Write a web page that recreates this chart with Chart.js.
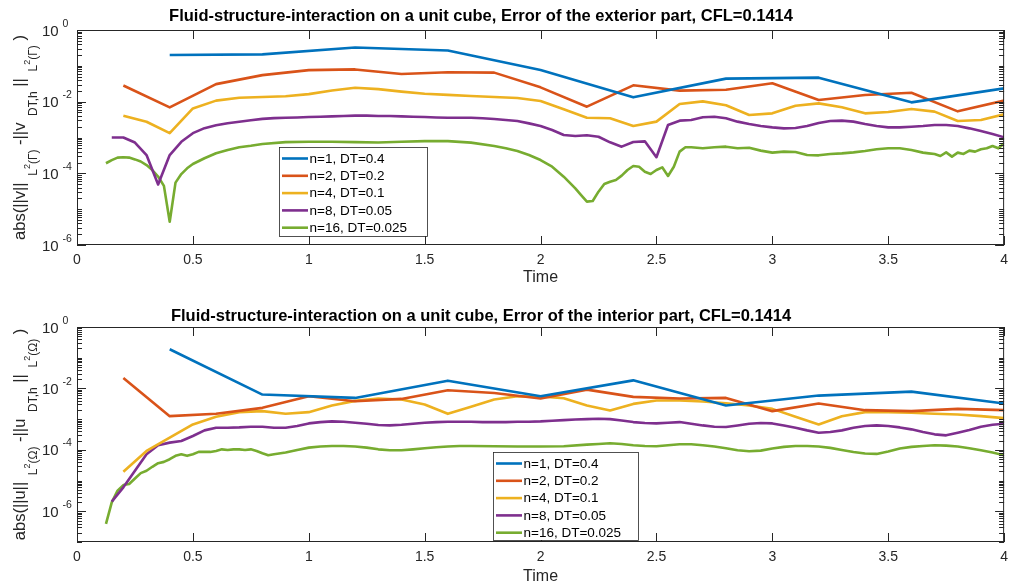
<!DOCTYPE html>
<html>
<head>
<meta charset="utf-8">
<script src="https://cdn.jsdelivr.net/npm/chart.js@4.4.1/dist/chart.umd.min.js"></script>
<style>
  html, body { margin: 0; padding: 0; background: #fff; }
  #wrap { position: relative; width: 1015px; height: 586px; overflow: hidden; }
  #wrap canvas { position: absolute; left: 0; }
</style>
</head>
<body>
<div id="wrap">
  <canvas id="exterior" width="1015" height="293" style="top:0"></canvas>
  <canvas id="interior" width="1015" height="293" style="top:293px"></canvas>
</div>
<script>
// ---- series ----
const seriesLabels = ['n=1, DT=0.4', 'n=2, DT=0.2', 'n=4, DT=0.1', 'n=8, DT=0.05', 'n=16, DT=0.025'];
const seriesColors = ['#0072BD', '#D95319', '#EDB120', '#7E2F8E', '#77AC30'];

// time grids
const t1 = [0.4, 0.8, 1.2, 1.6, 2.0, 2.4, 2.8, 3.2, 3.6, 4.0];
const t2 = [0.2, 0.4, 0.6, 0.8, 1.0, 1.2, 1.4, 1.6, 1.8, 2.0, 2.2, 2.4, 2.6, 2.8, 3.0, 3.2, 3.4, 3.6, 3.8, 4.0];
const t4 = [0.2, 0.3, 0.4, 0.5, 0.6, 0.7, 0.8, 0.9, 1.0, 1.1, 1.2, 1.3, 1.4, 1.5, 1.6, 1.7, 1.8, 1.9, 2.0,
            2.1, 2.2, 2.3, 2.4, 2.5, 2.6, 2.7, 2.8, 2.9, 3.0, 3.1, 3.2, 3.3, 3.4, 3.5, 3.6, 3.7, 3.8, 3.9, 4.0];
const t8 = [0.15, 0.2, 0.25, 0.3, 0.35, 0.4, 0.45, 0.5, 0.55, 0.6, 0.65, 0.7, 0.75, 0.8, 0.85, 0.9, 0.95, 1.0,
            1.05, 1.1, 1.15, 1.2, 1.25, 1.3, 1.35, 1.4, 1.45, 1.5, 1.55, 1.6, 1.65, 1.7, 1.75, 1.8, 1.85, 1.9,
            1.95, 2.0, 2.05, 2.1, 2.15, 2.2, 2.25, 2.3, 2.35, 2.4, 2.45, 2.5, 2.55, 2.6, 2.65, 2.7, 2.75, 2.8,
            2.85, 2.9, 2.95, 3.0, 3.05, 3.1, 3.15, 3.2, 3.25, 3.3, 3.35, 3.4, 3.45, 3.5, 3.55, 3.6, 3.65, 3.7,
            3.75, 3.8, 3.85, 3.9, 3.95, 4.0];
const tExt16 = [0.125, 0.15, 0.175, 0.2, 0.225, 0.25, 0.275, 0.3, 0.325, 0.35, 0.375, 0.4, 0.425, 0.45, 0.475,
                0.5, 0.55, 0.6, 0.65, 0.7, 0.75, 0.8, 0.9, 1.0, 1.1, 1.2, 1.3, 1.4, 1.5, 1.6,
                1.7, 1.8, 1.85, 1.9, 1.95, 2.0, 2.05, 2.1, 2.15, 2.175, 2.2, 2.225, 2.25, 2.275, 2.3, 2.325,
                2.35, 2.375, 2.4, 2.425, 2.45, 2.475, 2.5, 2.525, 2.55, 2.575, 2.6, 2.625, 2.65, 2.7, 2.75,
                2.8, 2.85, 2.9, 2.95, 3.0, 3.05, 3.1, 3.15, 3.2, 3.25, 3.3, 3.35, 3.4, 3.45, 3.5, 3.55, 3.6,
                3.65, 3.675, 3.7, 3.725, 3.75, 3.775, 3.8, 3.825, 3.85, 3.875, 3.9, 3.925, 3.95, 3.975, 4.0];
const tInt16 = [0.125, 0.15, 0.175, 0.2, 0.225, 0.25, 0.275, 0.3, 0.325, 0.35, 0.375, 0.4, 0.425, 0.45, 0.475,
                0.5, 0.525, 0.55, 0.575, 0.6, 0.625, 0.65, 0.675, 0.7, 0.725, 0.75, 0.775, 0.8, 0.825, 0.85,
                0.9, 0.95, 1.0, 1.05, 1.1, 1.15, 1.2, 1.25, 1.3, 1.35, 1.4, 1.45, 1.5, 1.55, 1.6,
                1.65, 1.7, 1.8, 1.9, 2.0, 2.1, 2.2, 2.25, 2.3, 2.35, 2.4, 2.45, 2.5, 2.55, 2.6, 2.65, 2.7,
                2.75, 2.8, 2.85, 2.9, 2.95, 3.0, 3.05, 3.1, 3.15, 3.2, 3.25, 3.3, 3.35, 3.4, 3.45, 3.5, 3.55,
                3.6, 3.65, 3.7, 3.75, 3.8, 3.85, 3.9, 3.95, 4.0];

// exterior part errors
const extErr1 = [2.0e-1, 2.09e-1, 3.24e-1, 2.69e-1, 7.66e-2, 1.32e-2, 4.39e-2, 4.68e-2, 9.57e-3, 2.35e-2];
const extErr2 = [2.82e-2, 6.92e-3, 3.09e-2, 5.50e-2, 7.59e-2, 7.94e-2, 5.89e-2, 6.61e-2, 6.46e-2, 2.51e-2,
                 7.24e-3, 2.86e-2, 2.03e-2, 2.16e-2, 3.25e-2, 1.11e-2, 1.53e-2, 1.78e-2, 5.37e-3, 1.07e-2];
const extErr4 = [4.07e-3, 2.75e-3, 1.32e-3, 6.46e-3, 1.07e-2, 1.29e-2, 1.35e-2, 1.41e-2, 1.62e-2, 2.04e-2,
                 2.45e-2, 2.24e-2, 1.91e-2, 1.66e-2, 1.55e-2, 1.44e-2, 1.35e-2, 1.26e-2, 1.04e-2, 6.11e-3,
                 3.57e-3, 3.43e-3, 2.09e-3, 2.77e-3, 8.61e-3, 1.02e-2, 7.91e-3, 4.25e-3, 4.72e-3, 7.73e-3,
                 8.97e-3, 6.95e-3, 4.72e-3, 5.15e-3, 6.24e-3, 5.26e-3, 2.88e-3, 3.08e-3, 4.44e-3];
const extErr8 = [1.0e-3, 1.0e-3, 7.24e-4, 3.24e-4, 4.90e-5, 3.24e-4, 7.59e-4, 1.32e-3, 1.82e-3, 2.19e-3,
                 2.51e-3, 2.75e-3, 3.02e-3, 3.31e-3, 3.47e-3, 3.55e-3, 3.63e-3, 3.72e-3, 3.80e-3, 3.89e-3,
                 3.98e-3, 4.07e-3, 4.07e-3, 3.98e-3, 3.98e-3, 3.89e-3, 3.80e-3, 3.72e-3, 3.63e-3, 3.55e-3,
                 3.55e-3, 3.57e-3, 3.43e-3, 3.28e-3, 3.08e-3, 2.88e-3, 2.48e-3, 2.09e-3, 1.62e-3, 1.17e-3,
                 1.10e-3, 1.15e-3, 1.05e-3, 7.33e-4, 5.55e-4, 7.48e-4, 7.81e-4, 2.82e-4, 2.23e-3, 2.95e-3,
                 3.08e-3, 3.66e-3, 3.81e-3, 3.43e-3, 2.77e-3, 2.38e-3, 2.09e-3, 1.92e-3, 1.80e-3, 1.84e-3,
                 2.09e-3, 2.54e-3, 2.88e-3, 2.95e-3, 2.77e-3, 2.38e-3, 2.09e-3, 1.92e-3, 1.92e-3, 2.00e-3,
                 2.09e-3, 2.23e-3, 2.23e-3, 2.09e-3, 1.80e-3, 1.52e-3, 1.25e-3, 1.01e-3];
const extErr16 = [1.91e-4, 2.34e-4, 2.75e-4, 2.82e-4, 2.75e-4, 2.45e-4, 2.14e-4, 1.70e-4, 1.23e-4, 8.13e-5,
                  4.47e-5, 4.47e-6, 5.50e-5, 9.55e-5, 1.38e-4, 1.82e-4, 2.63e-4, 3.63e-4, 4.47e-4, 5.37e-4,
                  5.89e-4, 6.61e-4, 7.41e-4, 7.59e-4, 7.59e-4, 7.41e-4, 7.24e-4, 7.59e-4, 7.94e-4, 7.94e-4,
                  7.18e-4, 5.79e-4, 4.99e-4, 4.20e-4, 3.25e-4, 2.35e-4, 1.53e-4, 8.07e-5, 3.81e-5, 2.48e-5,
                  1.62e-5, 1.69e-5, 3.08e-5, 5.04e-5, 5.85e-5, 6.52e-5, 8.61e-5, 1.24e-4, 1.60e-4, 1.53e-4,
                  1.11e-4, 9.57e-5, 1.24e-4, 1.47e-4, 8.43e-5, 1.53e-4, 4.03e-4, 5.32e-4, 5.32e-4, 4.99e-4,
                  5.32e-4, 5.55e-4, 4.99e-4, 5.20e-4, 4.30e-4, 3.78e-4, 4.03e-4, 3.94e-4, 3.25e-4, 3.18e-4,
                  3.47e-4, 3.61e-4, 3.85e-4, 4.20e-4, 4.68e-4, 4.99e-4, 4.99e-4, 4.48e-4, 3.78e-4, 3.61e-4,
                  3.47e-4, 3.05e-4, 3.85e-4, 2.92e-4, 3.78e-4, 3.47e-4, 4.30e-4, 4.03e-4, 4.68e-4, 4.99e-4,
                  5.79e-4, 4.99e-4, 6.87e-4];

// interior part errors
const intErr1 = [1.89e-1, 6.31e-3, 4.91e-3, 1.79e-2, 5.56e-3, 1.83e-2, 2.77e-3, 5.85e-3, 7.87e-3, 3.22e-3];
const intErr2 = [2.18e-2, 1.25e-3, 1.49e-3, 2.33e-3, 5.56e-3, 3.84e-3, 4.56e-3, 8.71e-3, 7.13e-3, 4.68e-3,
                 9.14e-3, 5.30e-3, 4.68e-3, 4.91e-3, 1.82e-3, 3.22e-3, 1.96e-3, 1.82e-3, 2.16e-3, 1.96e-3];
const intErr4 = [1.93e-5, 9.23e-5, 2.49e-4, 6.73e-4, 1.19e-3, 1.69e-3, 1.82e-3, 1.49e-3, 1.69e-3, 2.77e-3,
                 3.93e-3, 4.68e-3, 4.35e-3, 2.99e-3, 1.49e-3, 2.51e-3, 4.35e-3, 5.56e-3, 5.43e-3, 4.80e-3,
                 2.77e-3, 1.91e-3, 3.14e-3, 4.03e-3, 4.03e-3, 3.74e-3, 3.30e-3, 2.77e-3, 2.16e-3, 1.19e-3,
                 6.73e-4, 1.25e-3, 1.69e-3, 1.69e-3, 1.61e-3, 1.49e-3, 1.42e-3, 1.25e-3, 1.08e-3];
const intErr8 = [2.07e-6, 6.01e-6, 2.08e-5, 7.21e-5, 1.41e-4, 1.72e-4, 1.95e-4, 2.82e-4, 4.31e-4, 5.26e-4,
                 5.26e-4, 5.38e-4, 5.66e-4, 5.66e-4, 5.26e-4, 5.26e-4, 5.96e-4, 7.26e-4, 8.02e-4, 8.43e-4,
                 8.22e-4, 7.62e-4, 7.08e-4, 6.41e-4, 6.25e-4, 6.58e-4, 7.08e-4, 7.62e-4, 8.02e-4, 8.22e-4,
                 8.22e-4, 8.22e-4, 8.02e-4, 8.02e-4, 8.02e-4, 8.22e-4, 8.22e-4, 8.43e-4, 8.85e-4, 9.31e-4,
                 9.77e-4, 1.00e-3, 1.03e-3, 1.00e-3, 9.08e-4, 8.02e-4, 7.45e-4, 7.26e-4, 7.62e-4, 8.02e-4,
                 7.08e-4, 6.25e-4, 5.66e-4, 5.52e-4, 6.25e-4, 7.08e-4, 7.45e-4, 7.26e-4, 6.25e-4, 5.26e-4,
                 4.31e-4, 3.62e-4, 3.80e-4, 4.31e-4, 5.26e-4, 5.96e-4, 6.25e-4, 5.96e-4, 5.38e-4, 4.65e-4,
                 3.80e-4, 3.20e-4, 2.97e-4, 3.62e-4, 4.42e-4, 5.66e-4, 6.58e-4, 7.08e-4];
const intErr16 = [3.91e-7, 1.96e-6, 4.69e-6, 7.14e-6, 7.70e-6, 1.17e-5, 1.75e-5, 2.08e-5, 2.81e-5, 3.68e-5,
                  4.06e-5, 4.96e-5, 6.37e-5, 7.21e-5, 6.37e-5, 7.21e-5, 8.57e-5, 8.57e-5, 8.57e-5, 9.23e-5,
                  1.04e-4, 9.95e-5, 1.04e-4, 1.04e-4, 9.95e-5, 1.04e-4, 9.23e-5, 7.76e-5, 6.68e-5, 7.21e-5,
                  8.17e-5, 9.95e-5, 1.18e-4, 1.28e-4, 1.34e-4, 1.34e-4, 1.28e-4, 1.18e-4, 1.04e-4, 9.70e-5,
                  9.70e-5, 1.04e-4, 1.13e-4, 1.21e-4, 1.28e-4,
                  1.34e-4, 1.34e-4, 1.31e-4, 1.28e-4, 1.28e-4, 1.31e-4, 1.48e-4, 1.56e-4, 1.64e-4, 1.56e-4,
                  1.41e-4, 1.34e-4, 1.31e-4, 1.41e-4, 1.52e-4, 1.52e-4, 1.41e-4, 1.28e-4, 1.13e-4, 9.70e-5,
                  9.01e-5, 9.46e-5, 1.10e-4, 1.25e-4, 1.34e-4, 1.34e-4, 1.28e-4, 1.16e-4, 9.95e-5, 8.57e-5,
                  7.57e-5, 7.38e-5, 8.79e-5, 1.10e-4, 1.25e-4, 1.34e-4, 1.41e-4, 1.37e-4, 1.28e-4, 1.13e-4,
                  9.70e-5, 8.17e-5, 6.68e-5];

// tick labels
const xTickStep = 0.5;
const yLabelExponents = [0, -2, -4, -6];

// ---- drawing helpers ----
const FONT = '"Liberation Sans", Arial, Helvetica, sans-serif';
const AXIS = '#262626';

function pairs(ts, vs) {
  const n = Math.min(ts.length, vs.length);
  const out = [];
  for (let i = 0; i < n; i++) out.push({ x: ts[i], y: vs[i] });
  return out;
}

function buildDatasets(groups) {
  return groups.map((g, i) => ({
    label: seriesLabels[i],
    data: pairs(g[0], g[1]),
    borderColor: seriesColors[i],
    backgroundColor: seriesColors[i],
    borderWidth: 2.6,
    pointRadius: 0,
    tension: 0,
    fill: false,
    borderJoinStyle: 'round',
    borderCapStyle: 'butt'
  }));
}

// Axes box with inward ticks, superscript tick labels, rotated y label, title and boxed legend
const matlabFrame = {
  id: 'matlabFrame',
  afterDatasetsDraw(chart, args, o) {
    const ctx = chart.ctx;
    const a = chart.chartArea;
    const xs = chart.scales.x, ys = chart.scales.y;
    ctx.save();

    // box
    ctx.strokeStyle = AXIS;
    ctx.lineWidth = 1;
    ctx.strokeRect(a.left + 0.5, a.top + 0.5, a.right - a.left - 1, a.bottom - a.top - 1);

    // x ticks (bottom and top, pointing inward)
    ctx.beginPath();
    xs.ticks.forEach(t => {
      const px = Math.round(xs.getPixelForValue(t.value)) + 0.5;
      ctx.moveTo(px, a.bottom); ctx.lineTo(px, a.bottom - 9);
      ctx.moveTo(px, a.top); ctx.lineTo(px, a.top + 9);
    });
    // y ticks: decades + minor 2..9
    const eMin = Math.round(Math.log10(ys.min)), eMax = Math.round(Math.log10(ys.max));
    for (let e = eMin; e <= eMax; e++) {
      for (let m = 1; m <= 9; m++) {
        const v = m * Math.pow(10, e);
        if (v < ys.min * 0.999 || v > ys.max * 1.001) continue;
        const py = Math.round(ys.getPixelForValue(v)) + 0.5;
        const len = (m === 1 && yLabelExponents.includes(e)) ? 9 : 5;
        ctx.moveTo(a.left, py); ctx.lineTo(a.left + len, py);
        ctx.moveTo(a.right, py); ctx.lineTo(a.right - len, py);
      }
    }
    ctx.stroke();

    // y tick labels 10^e
    ctx.fillStyle = AXIS;
    ctx.textAlign = 'left';
    ctx.textBaseline = 'alphabetic';
    yLabelExponents.forEach(e => {
      const v = Math.pow(10, e);
      if (v < ys.min || v > ys.max) return;
      const py = ys.getPixelForValue(v);
      ctx.font = '15px ' + FONT;
      ctx.fillText('10', 42, py + 5.5);
      ctx.font = '10.5px ' + FONT;
      ctx.fillText(String(e), 62.5, py - 3.5);
    });

    // rotated y-axis label with sub/superscripts
    const segs = o.ylabel;
    let total = 0;
    segs.forEach(s => { ctx.font = s.size + 'px ' + FONT; s.w = ctx.measureText(s.t).width; total += s.w; });
    ctx.save();
    ctx.translate(o.ylabelX, (a.top + a.bottom) / 2);
    ctx.rotate(-Math.PI / 2);
    ctx.fillStyle = AXIS;
    let cx = -total / 2;
    segs.forEach(s => {
      ctx.font = s.size + 'px ' + FONT;
      ctx.fillText(s.t, cx, s.dy);
      cx += s.w;
    });
    ctx.restore();

    // title
    ctx.fillStyle = '#000';
    ctx.font = 'bold 16.5px ' + FONT;
    ctx.textAlign = 'center';
    ctx.fillText(o.title, o.titleX, o.titleY);

    // legend
    const lg = o.legend;
    ctx.fillStyle = '#fff';
    ctx.fillRect(lg.x, lg.y, lg.w, lg.h);
    ctx.strokeStyle = AXIS;
    ctx.lineWidth = 0.8;
    ctx.strokeRect(lg.x + 0.5, lg.y + 0.5, lg.w, lg.h);
    ctx.textAlign = 'left';
    ctx.textBaseline = 'middle';
    ctx.font = '13.5px ' + FONT;
    chart.data.datasets.forEach((ds, i) => {
      const y = lg.y + 11.5 + i * 17.3;
      ctx.strokeStyle = ds.borderColor;
      ctx.lineWidth = 2.6;
      ctx.beginPath();
      ctx.moveTo(lg.x + 3, y); ctx.lineTo(lg.x + 29, y);
      ctx.stroke();
      ctx.fillStyle = '#000';
      ctx.fillText(ds.label, lg.x + 30.5, y + 0.5);
    });

    ctx.restore();
  }
};

function ylabelSegments(sym, dom) {
  return [
    { t: 'abs(||' + sym + '||', size: 16.5, dy: 0 },
    { t: '  L', size: 12, dy: 12 },
    { t: '2', size: 9, dy: 5 },
    { t: '(' + dom + ')', size: 12, dy: 12 },
    { t: ' -||' + sym, size: 16.5, dy: 0 },
    { t: '  DT,h', size: 12, dy: 12 },
    { t: ' ||', size: 16.5, dy: 0 },
    { t: '  L', size: 12, dy: 12 },
    { t: '2', size: 9, dy: 5 },
    { t: '(' + dom + ')', size: 12, dy: 12 },
    { t: ' )', size: 16.5, dy: 0 }
  ];
}

function makeChart(id, groups, cfg) {
  return new Chart(document.getElementById(id), {
    type: 'line',
    data: { datasets: buildDatasets(groups) },
    options: {
      responsive: false,
      animation: false,
      devicePixelRatio: 1,
      layout: { padding: { left: 0, right: 5, top: cfg.padTop, bottom: 0 } },
      plugins: {
        legend: { display: false },
        tooltip: { enabled: false },
        title: { display: false },
        matlabFrame: {
          title: cfg.title, titleX: 481, titleY: cfg.titleY,
          ylabel: cfg.ylabel, ylabelX: 25,
          legend: cfg.legend
        }
      },
      scales: {
        x: {
          type: 'linear', min: 0, max: 4,
          ticks: {
            stepSize: xTickStep, padding: 7, color: AXIS, autoSkip: false, maxRotation: 0,
            font: { family: FONT, size: 14 },
            callback: v => String(Number(v.toFixed(2)))
          },
          grid: { display: false, drawTicks: false },
          border: { display: false },
          title: { display: true, text: 'Time', color: AXIS, font: { family: FONT, size: 16 },
                   padding: { top: 0, bottom: cfg.timePad } },
          afterFit: s => { s.height = cfg.xAxisH; }
        },
        y: {
          type: 'logarithmic', min: cfg.ymin, max: 1,
          ticks: { display: false },
          grid: { display: false, drawTicks: false },
          border: { display: false },
          afterFit: s => { s.width = 77; }
        }
      }
    },
    plugins: [matlabFrame]
  });
}

makeChart('exterior',
  [[t1, extErr1], [t2, extErr2], [t4, extErr4], [t8, extErr8], [tExt16, extErr16]],
  {
    title: 'Fluid-structure-interaction on a unit cube, Error of the exterior part, CFL=0.1414',
    titleY: 20.5, padTop: 30, xAxisH: 48, timePad: 5.5, ymin: 1e-6,
    ylabel: ylabelSegments('v', '\u0393'),
    legend: { x: 279, y: 147, w: 148, h: 89 }
  });

makeChart('interior',
  [[t1, intErr1], [t2, intErr2], [t4, intErr4], [t8, intErr8], [tInt16, intErr16]],
  {
    title: 'Fluid-structure-interaction on a unit cube, Error of the interior part, CFL=0.1414',
    titleY: 27.5, padTop: 34, xAxisH: 44, timePad: 0, ymin: 1e-7,
    ylabel: ylabelSegments('u', '\u03A9'),
    legend: { x: 493, y: 159, w: 145, h: 88 }
  });
</script>
</body>
</html>
